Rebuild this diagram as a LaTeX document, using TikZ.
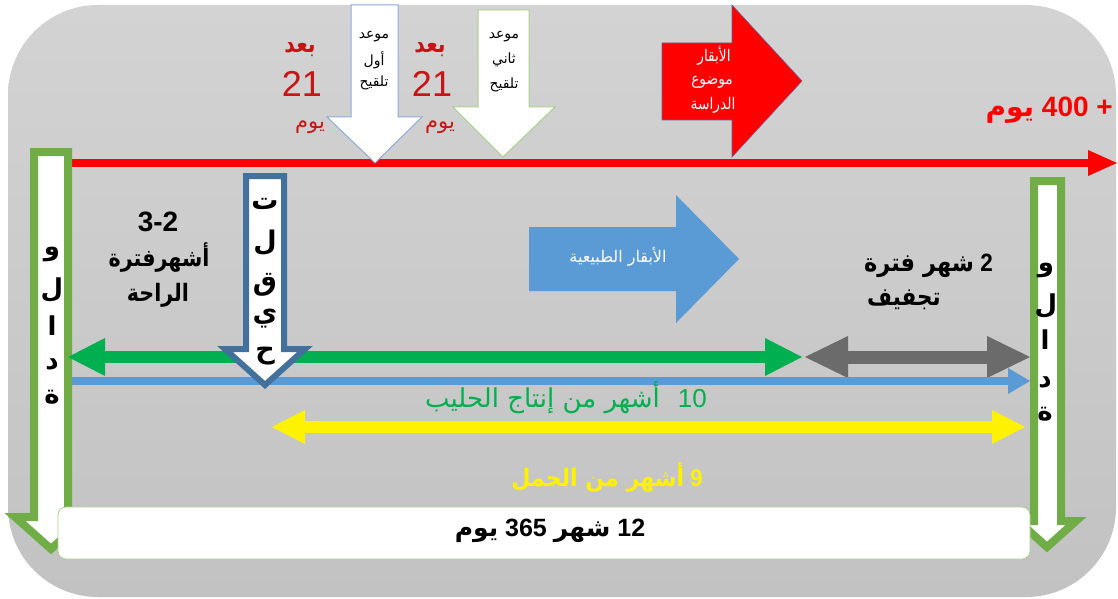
\documentclass[tikz,border=0pt]{standalone}
\usepackage{graphicx}
\usepackage{fontspec}
\setmainfont{Liberation Sans}
\newfontfamily\arabicfont[Script=Arabic]{DejaVu Sans}
\TeXXeTstate=1
\usetikzlibrary{arrows.meta}
\newcommand{\AR}[1]{{\arabicfont\beginR #1\endR}}
\newcommand{\ARc}[1]{\scalebox{0.86}[1]{\AR{#1}}}
\newcommand{\fsz}[1]{\fontsize{#1}{#1}\selectfont}
\definecolor{bgtop}{HTML}{D3D3D3}
\definecolor{bgbot}{HTML}{C2C2C2}
\definecolor{vgreen}{HTML}{70AD47}
\definecolor{tblue}{HTML}{41719C}
\definecolor{lblue}{HTML}{5B9BD5}
\definecolor{dgreen}{HTML}{00B050}
\definecolor{dgray}{HTML}{6B6B6B}
\definecolor{dred}{HTML}{C81414}
\definecolor{pblue}{HTML}{8FAADC}
\definecolor{pgreen}{HTML}{A9D18E}
\definecolor{slate}{HTML}{6F5F8F}
\begin{document}
\begin{tikzpicture}[x=1pt,y=-1pt,
  lbl/.style={inner sep=0pt,anchor=center},
  vbar/.style={fill=white,draw=vgreen,line width=8pt}]
\useasboundingbox (0,0) rectangle (1118,599);
% background panel
\path[top color=bgtop,bottom color=bgbot,rounded corners=90pt] (8,5) rectangle (1116,597);

% red timeline
\coordinate (redS) at (72,163);
\coordinate (redE) at (1117,163);
\draw[red,line width=8pt,-{Triangle[line width=0pt,length=29pt,width=26pt]}] (redS) -- (redE);

% red block arrow
\path[fill=red,draw=slate,line width=0.6pt] (662,43) -- (732,43) -- (732,5) -- (802,81) -- (732,157) -- (732,120) -- (662,120) -- cycle;

% white down arrows
\path[fill=white,draw=pblue,line width=1pt] (351,5) -- (398,5) -- (398,117) -- (422,117) -- (375,163) -- (327,117) -- (351,117) -- cycle;
\path[fill=white,draw=pgreen,line width=1pt] (478,10) -- (529,10) -- (529,107) -- (555,107) -- (503,157) -- (453,107) -- (478,107) -- cycle;

% blue block arrow
\path[fill=lblue] (529,227) -- (676,227) -- (676,195) -- (739,259) -- (676,323) -- (676,291) -- (529,291) -- cycle;

% birth arrows
\path[vbar] (34,152) -- (68,152) -- (68,517) -- (87,517) -- (51,549) -- (15,517) -- (34,517) -- cycle;
\path[vbar] (1034,181) -- (1061,181) -- (1061,521) -- (1076,521) -- (1047,547) -- (1018,521) -- (1034,521) -- cycle;

% horizontal double arrows
\coordinate (gL) at (68,357);
\coordinate (gR) at (802,357);
\draw[dgreen,line width=12pt,{Triangle[line width=0pt,length=37pt,width=38pt]}-{Triangle[line width=0pt,length=37pt,width=38pt]}] (gL) -- (gR);
\coordinate (kL) at (805,357);
\coordinate (kR) at (1030,357);
\draw[dgray,line width=13pt,{Triangle[line width=0pt,length=43pt,width=42pt]}-{Triangle[line width=0pt,length=43pt,width=42pt]}] (kL) -- (kR);
\coordinate (bL) at (72,381);
\coordinate (bR) at (1030,381);
\draw[lblue,line width=8pt,-{Triangle[line width=0pt,length=22pt,width=26pt]}] (bL) -- (bR);
\coordinate (yL) at (272,427);
\coordinate (yR) at (1025,427);
\draw[yellow,line width=12pt,{Triangle[line width=0pt,length=33pt,width=34pt]}-{Triangle[line width=0pt,length=33pt,width=34pt]}] (yL) -- (yR);

% insemination arrow
\path[fill=white,draw=tblue,line width=6pt] (246,176) -- (284,176) -- (284,349) -- (305,349) -- (265,385) -- (225,349) -- (246,349) -- cycle;

% bottom box
\node[draw=pgreen,fill=white,rounded corners=8pt,line width=0.8pt,minimum width=972pt,minimum height=52pt,inner sep=0pt] (box) at (544,533) {};
\node[lbl] (boxtxt) at (550,531) {\fsz{25}\bfseries\beginR 12 {\arabicfont شهر} 365 {\arabicfont يوم}\endR};

% red texts
\node[lbl,text=dred] (b1) at (300,50) {\fsz{24}\bfseries\ARc{بعد}};
\node[lbl,text=dred] (n1) at (302,84) {\fsz{36}21};
\node[lbl,text=dred] (y1) at (310,127) {\fsz{21}\AR{يوم}};
\node[lbl,text=dred] (b2) at (430,50) {\fsz{24}\bfseries\ARc{بعد}};
\node[lbl,text=dred] (n2) at (432,84) {\fsz{36}21};
\node[lbl,text=dred] (y2) at (440,127) {\fsz{21}\AR{يوم}};
\node[inner sep=0pt,anchor=east,text=red] (d400) at (1113,110) {\fsz{28}\bfseries\beginR + 400 {\arabicfont يوم}\endR};

% white arrow texts
\node[lbl] (w1a) at (374,37) {\fsz{14}\AR{موعد}};
\node[lbl] (w1b) at (374,60) {\fsz{14}\AR{أول}};
\node[lbl] (w1c) at (374,83) {\fsz{14}\AR{تلقيح}};
\node[lbl] (w2a) at (504,37) {\fsz{14}\AR{موعد}};
\node[lbl] (w2b) at (504,60) {\fsz{14}\AR{ثاني}};
\node[lbl] (w2c) at (504,85) {\fsz{14}\AR{تلقيح}};

% red arrow text
\node[lbl,text=white] (r1) at (714,56) {\fsz{16}\ARc{الأبقار}};
\node[lbl,text=white] (r2) at (712,82) {\fsz{16}\ARc{موضوع}};
\node[lbl,text=white] (r3) at (713,105) {\fsz{16}\ARc{الدراسة}};

% blue arrow text
\node[lbl,text=white] (nat) at (618,257) {\fsz{16}\AR{الأبقار الطبيعية}};

% rest period
\node[lbl] (rest1) at (158,222) {\fsz{28}\bfseries 3-2};
\node[lbl] (rest2) at (159,258) {\fsz{24}\bfseries\ARc{أشهرفترة}};
\node[lbl] (rest3) at (158,295) {\fsz{24}\bfseries\ARc{الراحة}};

% drying period
\node[inner sep=0pt,anchor=east] (dry1) at (993,266) {\fsz{25}\bfseries\scalebox{0.9}[1]{\beginR 2 {\arabicfont شهر فترة}\endR}};
\node[inner sep=0pt,anchor=west] (dry2) at (867,300) {\fsz{25}\bfseries\ARc{تجفيف}};

% vertical letters, left birth arrow
\node[lbl] (lv1) at (52,254) {\fsz{26}\bfseries\AR{و}};
\node[lbl] (lv2) at (52,290) {\fsz{26}\bfseries\AR{ل}};
\node[lbl] (lv3) at (52,326) {\fsz{26}\bfseries\AR{ا}};
\node[lbl] (lv4) at (52,364) {\fsz{26}\bfseries\AR{د}};
\node[lbl] (lv5) at (52,397) {\fsz{26}\bfseries\AR{ة}};
% right birth arrow
\node[lbl] (rv1) at (1046,270) {\fsz{26}\bfseries\AR{و}};
\node[lbl] (rv2) at (1046,306) {\fsz{26}\bfseries\AR{ل}};
\node[lbl] (rv3) at (1045,340) {\fsz{26}\bfseries\AR{ا}};
\node[lbl] (rv4) at (1045,382) {\fsz{26}\bfseries\AR{د}};
\node[lbl] (rv5) at (1045,414) {\fsz{26}\bfseries\AR{ة}};
% insemination letters
\node[lbl] (t1) at (265,204) {\fsz{27}\bfseries\AR{ت}};
\node[lbl] (t2) at (265,243) {\fsz{27}\bfseries\AR{ل}};
\node[lbl] (t3) at (265,285) {\fsz{27}\bfseries\AR{ق}};
\node[lbl] (t4) at (265,319) {\fsz{27}\bfseries\AR{ي}};
\node[lbl] (t5) at (265,356) {\fsz{27}\bfseries\AR{ح}};

% lower labels
\node[inner sep=0pt,anchor=east,text=dgreen] (milk) at (707,398) {\fsz{26}\beginR 10\hspace{18pt}{\arabicfont أشهر من إنتاج الحليب}\endR};
\node[lbl,text=yellow] (preg) at (607,478) {\fsz{24}\bfseries\scalebox{0.92}[1]{\beginR 9 {\arabicfont أشهر من الحمل}\endR}};
\end{tikzpicture}
\end{document}
